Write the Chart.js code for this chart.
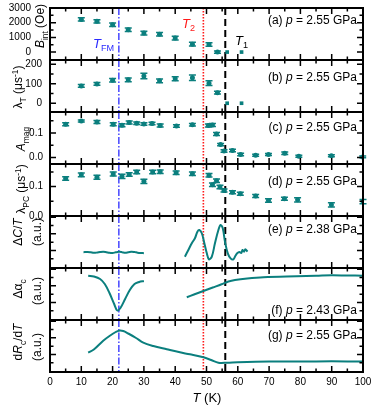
<!DOCTYPE html>
<html>
<head>
<meta charset="utf-8">
<script src="https://cdn.jsdelivr.net/npm/chart.js@4.4.0/dist/chart.umd.min.js"></script>
<style>
  html, body { margin: 0; padding: 0; background: #fff; }
  #wrap { position: relative; width: 374px; height: 405px; overflow: hidden; }
  #wrap canvas { position: absolute; left: 0; }
</style>
</head>
<body>
<div id="wrap">
  <canvas id="pa"></canvas>
  <canvas id="pb"></canvas>
  <canvas id="pc"></canvas>
  <canvas id="pd"></canvas>
  <canvas id="pe"></canvas>
  <canvas id="pf"></canvas>
  <canvas id="pg"></canvas>
</div>
<script>
// --- dados ---
const TEAL = '#0b7f7e';
const FONT = '"Liberation Sans", Arial, sans-serif';
const T_FM = 22, T_2 = 49, T_1 = 56;

// (a) B_int (Oe)
const tA = [10, 15, 20, 25, 30, 35, 40, 45.5, 50.8, 53.5];
const bInt = [2225, 2090, 1860, 1520, 1290, 1220, 950, 540, 520, 0];
const bIntErr = [110, 110, 120, 120, 130, 120, 130, 130, 120, 80];
const tAZero = [56.6, 61.2];
const bIntZero = [0, 0];

// (b) lambda_T (us^-1)
const tB = [10, 15, 20, 25, 30, 35, 40, 45.5, 50.8, 53.5];
const lamT = [89, 99, 118, 120, 140, 115, 126, 131, 103, 54];
const lamTErr = [7, 7, 9, 10, 14, 10, 10, 14, 12, 7];
const tBZero = [56.6, 61.2];
const lamTZero = [0, 0];

// (c) A_mag
const tC = [5, 10, 15, 20.2, 23, 25.3, 27.7, 30, 32.6, 35.2, 40.4, 45.5, 50.6, 51.9, 53.2, 54.5, 55.6, 58.3, 60.9, 65.7, 69.8, 75, 79.5, 89.9, 99.9];
const aMag = [0.136, 0.149, 0.145, 0.136, 0.132, 0.143, 0.140, 0.137, 0.139, 0.131, 0.129, 0.134, 0.131, 0.133, 0.096, 0.053, 0.027, 0.029, 0.013, 0.010, 0.013, 0.018, 0.006, 0.008, 0.003];
const aMagErr = [0.006, 0.004, 0.006, 0.006, 0.006, 0.006, 0.005, 0.005, 0.005, 0.006, 0.005, 0.005, 0.006, 0.006, 0.006, 0.005, 0.005, 0.005, 0.005, 0.004, 0.004, 0.005, 0.004, 0.004, 0.004];

// (d) lambda_PC (us^-1)
const tD = [5, 10, 15, 20.2, 23, 25.3, 27.7, 30, 32.8, 35.2, 40.3, 45.5, 50.8, 51.9, 53.2, 54.3, 55.6, 58.3, 60.8, 65.7, 69.8, 74.9, 79.1, 89.9, 100];
const lamPC = [0.128, 0.140, 0.132, 0.143, 0.135, 0.141, 0.150, 0.118, 0.150, 0.151, 0.147, 0.144, 0.139, 0.106, 0.120, 0.099, 0.087, 0.081, 0.076, 0.068, 0.053, 0.059, 0.055, 0.038, 0.049];
const lamPCErr = [0.006, 0.006, 0.007, 0.007, 0.007, 0.006, 0.006, 0.007, 0.006, 0.006, 0.006, 0.006, 0.006, 0.006, 0.006, 0.006, 0.005, 0.005, 0.005, 0.005, 0.006, 0.005, 0.007, 0.007, 0.007];

// (e) ΔC/T (u.a.)
const tE1 = [10.7, 12, 13, 14, 15, 16, 17, 18, 19, 20, 21, 22, 23, 24, 25, 26, 27, 28, 29, 30];
const dC1 = [1.80, 1.82, 1.78, 1.72, 1.75, 1.82, 1.86, 1.80, 1.72, 1.70, 1.78, 1.84, 1.80, 1.72, 1.78, 1.86, 1.82, 1.74, 1.70, 1.68];
const tE2 = [43.1, 44.2, 45.3, 46.3, 47.1, 47.7, 48.5, 49.2, 50.1, 50.8, 51.7, 52.7, 53.8, 54.5, 55.2, 55.9, 56.8, 57.7, 58.6, 59.2, 59.8, 60.5, 61.1, 61.5, 62, 62.4, 63.1];
const dC2 = [1.26, 2.06, 2.87, 3.47, 4.26, 4.46, 4.07, 3.06, 1.66, 0.94, 1.26, 2.87, 4.46, 5.06, 4.66, 3.06, 1.66, 1.06, 0.94, 1.34, 1.66, 1.82, 1.70, 2.06, 1.86, 2.14, 1.86];

// (f) Δα_c (u.a.)
const tF1 = [12.2, 14, 16, 17.5, 19, 20.5, 21.5, 22.5, 24, 25.5, 27, 28.5, 30];
const dA1 = [5.22, 5.12, 4.82, 4.22, 3.14, 1.82, 1.04, 1.34, 2.42, 3.50, 4.22, 4.46, 4.58];
const tF2 = [43.7, 46, 49, 52, 54.8, 57, 59.1, 63, 68.2, 78.8, 85, 90, 95, 100];
const dA2 = [2.63, 2.96, 3.38, 3.80, 4.19, 4.52, 4.70, 4.88, 5.03, 5.15, 5.21, 5.27, 5.24, 5.22];

// (g) dR_c/dT (u.a.)
const tG = [12.2, 14, 17, 19, 21, 22, 23.4, 25, 27.5, 29.8, 33, 37.3, 41.5, 44.7, 49, 51.5, 53.8, 56.5, 60, 70, 80, 90, 100];
const dR = [2.22, 2.60, 3.66, 4.22, 4.70, 4.86, 4.82, 4.52, 3.98, 3.42, 3.02, 2.63, 2.26, 2.02, 1.66, 1.34, 1.02, 1.02, 1.08, 1.16, 1.16, 1.18, 1.16];

const xTickLabels = [0, 10, 20, 30, 40, 50, 60, 70, 80, 90, 100];

// --- auxiliares ---
const PAD = 20;
const pts = (xs, ys) => xs.map((x, i) => ({ x: x, y: ys[i] }));

const scatter = (xs, ys, errs, style) => ({
  data: pts(xs, ys),
  errors: errs,
  showLine: false,
  pointStyle: style || 'circle',
  pointRadius: style === 'rect' ? 2.6 : 2.5,
  backgroundColor: TEAL,
  borderColor: TEAL,
  borderWidth: 0
});

const curve = (xs, ys) => ({
  data: pts(xs, ys),
  showLine: true,
  pointRadius: 0,
  borderColor: TEAL,
  borderWidth: 2,
  tension: 0.35,
  fill: false
});

// texto com itálico / subscrito / sobrescrito
function drawRich(ctx, segs, x, y, size, align, color, rotate) {
  ctx.save();
  ctx.translate(x, y);
  if (rotate) ctx.rotate(-Math.PI / 2);
  const parts = segs.map(([t, f = '']) => {
    const small = f.includes('b') || f.includes('p');
    const s = small ? size * 0.7 : size;
    const font = (f.includes('i') ? 'italic ' : '') + s + 'px ' + FONT;
    ctx.font = font;
    const dy = f.includes('b') ? size * 0.28 : (f.includes('p') ? -size * 0.38 : 0);
    return { t, font, dy, w: ctx.measureText(t).width };
  });
  const total = parts.reduce((a, p) => a + p.w, 0);
  let cx = align === 'right' ? -total : (align === 'left' ? 0 : -total / 2);
  ctx.fillStyle = color || '#000';
  ctx.textAlign = 'left';
  ctx.textBaseline = 'alphabetic';
  parts.forEach(p => {
    ctx.font = p.font;
    ctx.fillText(p.t, cx, size * 0.36 + p.dy);
    cx += p.w;
  });
  ctx.restore();
}

const panelPlugin = {
  id: 'panel',
  beforeDatasetsDraw(chart, args, cfg) {
    const { ctx, chartArea: a, scales: { x } } = chart;
    const lines = [
      { t: T_FM, color: '#2a2aff', width: 1.3, dash: [7, 2, 1.5, 2] },
      { t: T_2, color: '#ff1a1a', width: 1.6, dash: [1.5, 1.5] },
      { t: T_1, color: '#000', width: 2, dash: [7, 4] }
    ];
    ctx.save();
    lines.forEach(l => {
      const px = x.getPixelForValue(l.t);
      ctx.strokeStyle = l.color;
      ctx.lineWidth = l.width;
      ctx.setLineDash(l.dash);
      ctx.beginPath();
      ctx.moveTo(px, a.top);
      ctx.lineTo(px, a.bottom);
      ctx.stroke();
    });
    ctx.restore();
  },
  afterDatasetsDraw(chart, args, cfg) {
    const { ctx, chartArea: a, scales: { x, y } } = chart;
    ctx.save();

    // barras de erro
    chart.data.datasets.forEach((ds, i) => {
      if (!ds.errors) return;
      const meta = chart.getDatasetMeta(i);
      ctx.strokeStyle = TEAL;
      ctx.lineWidth = 1.5;
      meta.data.forEach((el, j) => {
        const v = ds.data[j].y, e = ds.errors[j];
        const y1 = y.getPixelForValue(v + e), y2 = y.getPixelForValue(v - e);
        ctx.beginPath();
        ctx.moveTo(el.x, y1); ctx.lineTo(el.x, y2);
        ctx.moveTo(el.x - 3.5, y1); ctx.lineTo(el.x + 3.5, y1);
        ctx.moveTo(el.x - 3.5, y2); ctx.lineTo(el.x + 3.5, y2);
        ctx.stroke();
      });
    });

    // moldura
    ctx.strokeStyle = '#000';
    ctx.lineWidth = 2;
    ctx.strokeRect(a.left, a.top, a.right - a.left, a.bottom - a.top);

    // ticks do eixo x (para dentro, em cima e em baixo)
    ctx.lineWidth = 1.5;
    ctx.beginPath();
    for (let t = 5; t < 100; t += 5) {
      const px = x.getPixelForValue(t);
      const len = t % 10 === 0 ? 6 : 3.5;
      ctx.moveTo(px, a.top); ctx.lineTo(px, a.top + len);
      ctx.moveTo(px, a.bottom); ctx.lineTo(px, a.bottom - len);
    }
    // ticks do eixo y (esquerda e direita)
    const start = Math.ceil(cfg.ymin / cfg.step - 1e-9) * cfg.step;
    for (let v = start; v <= cfg.ymax + 1e-9; v += cfg.step) {
      const py = y.getPixelForValue(v);
      if (py < a.top + 1 || py > a.bottom - 1) continue;
      const r = v / cfg.major;
      const len = Math.abs(r - Math.round(r)) < 1e-6 ? 6 : 3.5;
      ctx.moveTo(a.left, py); ctx.lineTo(a.left + len, py);
      ctx.moveTo(a.right, py); ctx.lineTo(a.right - len, py);
    }
    ctx.stroke();

    // rótulos do eixo y
    if (cfg.yLabels) {
      ctx.font = '10px ' + FONT;
      ctx.fillStyle = '#000';
      ctx.textAlign = 'right';
      ctx.textBaseline = 'middle';
      cfg.yLabels.values.forEach(v => {
        ctx.fillText(v.toFixed(cfg.yLabels.dec), cfg.yLabels.x, y.getPixelForValue(v));
      });
    }

    // rótulos do eixo x (só no último painel)
    if (cfg.xLabels) {
      ctx.font = '10px ' + FONT;
      ctx.textAlign = 'center';
      ctx.textBaseline = 'middle';
      xTickLabels.forEach(t => ctx.fillText(String(t), x.getPixelForValue(t), a.bottom + 10));
      drawRich(ctx, [['T', 'i'], [' (K)']], 207, a.bottom + 25, 13, 'center');
    }

    // textos em coordenadas da página
    ctx.translate(0, -cfg.canvasTop);
    cfg.titles.forEach(tt => drawRich(ctx, tt.segs, tt.x, tt.y, 12, 'center', '#000', true));
    drawRich(ctx, [['(' + cfg.tag + ') '], ['p', 'i'], [' = ' + cfg.p + ' GPa']], 357, cfg.labelY, 12, 'right');
    (cfg.notes || []).forEach(n => drawRich(ctx, n.segs, n.x, n.y, 13, 'left', n.color));
    ctx.restore();
  }
};

function createPanel(canvasId, cfg, datasets) {
  const canvas = document.getElementById(canvasId);
  const canvasTop = cfg.top - PAD;
  const bottomPad = cfg.xLabels ? 405 - cfg.top - 52 : PAD;
  canvas.width = 374;
  canvas.height = 52 + PAD + bottomPad;
  canvas.style.top = canvasTop + 'px';
  cfg.canvasTop = canvasTop;

  return new Chart(canvas.getContext('2d'), {
    type: 'scatter',
    data: { datasets: datasets },
    options: {
      responsive: false,
      animation: false,
      devicePixelRatio: 1,
      events: [],
      layout: { padding: { left: 50, right: 11, top: PAD, bottom: bottomPad } },
      scales: {
        x: { type: 'linear', min: 0, max: 100, display: false },
        y: { type: 'linear', min: cfg.ymin, max: cfg.ymax, display: false }
      },
      plugins: { legend: { display: false }, tooltip: { enabled: false }, panel: cfg }
    },
    plugins: [panelPlugin]
  });
}

// --- painéis ---
createPanel('pa', {
  top: 8, ymin: -540, ymax: 3000, step: 500, major: 1000,
  yLabels: { values: [0, 1000, 2000, 3000], dec: 0, x: 31 },
  titles: [{ segs: [['B', 'i'], ['int', 'b'], [' (Oe)']], x: 40, y: 26 }],
  tag: 'a', p: '2.55', labelY: 20,
  notes: [
    { segs: [['T', 'i'], ['FM', 'b']], x: 93, y: 43, color: '#2a2aff' },
    { segs: [['T', 'i'], ['2', 'b']], x: 182, y: 23, color: '#ff1a1a' },
    { segs: [['T', 'i'], ['1', 'b']], x: 235, y: 40, color: '#000' }
  ]
}, [scatter(tA, bInt, bIntErr), scatter(tAZero, bIntZero, null, 'rect')]);

createPanel('pb', {
  top: 60, ymin: -45, ymax: 222, step: 50, major: 100,
  yLabels: { values: [0, 100, 200], dec: 0, x: 42 },
  titles: [{ segs: [['λ'], ['T', 'b'], [' (μs'], ['-1', 'p'], [')']], x: 18, y: 87 }],
  tag: 'b', p: '2.55', labelY: 77
}, [scatter(tB, lamT, lamTErr), scatter(tBZero, lamTZero, null, 'rect')]);

createPanel('pc', {
  top: 112, ymin: -0.026, ymax: 0.186, step: 0.05, major: 0.1,
  yLabels: { values: [0, 0.1], dec: 1, x: 43 },
  titles: [{ segs: [['A', 'i'], ['mag', 'b']], x: 21, y: 139 }],
  tag: 'c', p: '2.55', labelY: 127
}, [scatter(tC, aMag, aMagErr)]);

createPanel('pd', {
  top: 164, ymin: 0, ymax: 0.177, step: 0.05, major: 0.1,
  yLabels: { values: [0, 0.1], dec: 1, x: 43 },
  titles: [{ segs: [['λ'], ['PC', 'b'], [' (μs'], ['-1', 'p'], [')']], x: 21, y: 189 }],
  tag: 'd', p: '2.55', labelY: 181
}, [scatter(tD, lamPC, lamPCErr)]);

createPanel('pe', {
  top: 216, ymin: -0.1, ymax: 6.14, step: 1, major: 2,
  titles: [
    { segs: [['Δ'], ['C', 'i'], ['/'], ['T', 'i']], x: 18, y: 232 },
    { segs: [['(a.u.)']], x: 37, y: 232 }
  ],
  tag: 'e', p: '2.38', labelY: 229
}, [curve(tE1, dC1), curve(tE2, dC2)]);

createPanel('pf', {
  top: 268, ymin: -0.1, ymax: 6.14, step: 1, major: 2,
  titles: [
    { segs: [['Δα'], ['c', 'b']], x: 18, y: 289 },
    { segs: [['(a.u.)']], x: 37, y: 291 }
  ],
  tag: 'f', p: '2.43', labelY: 310
}, [curve(tF1, dA1), curve(tF2, dA2)]);

createPanel('pg', {
  top: 320, ymin: -0.1, ymax: 6.14, step: 1, major: 2,
  titles: [
    { segs: [['d'], ['R', 'i'], ['c', 'b'], ['/d'], ['T', 'i']], x: 18, y: 342 },
    { segs: [['(a.u.)']], x: 37, y: 347 }
  ],
  tag: 'g', p: '2.55', labelY: 335, xLabels: true
}, [curve(tG, dR)]);
</script>
</body>
</html>
